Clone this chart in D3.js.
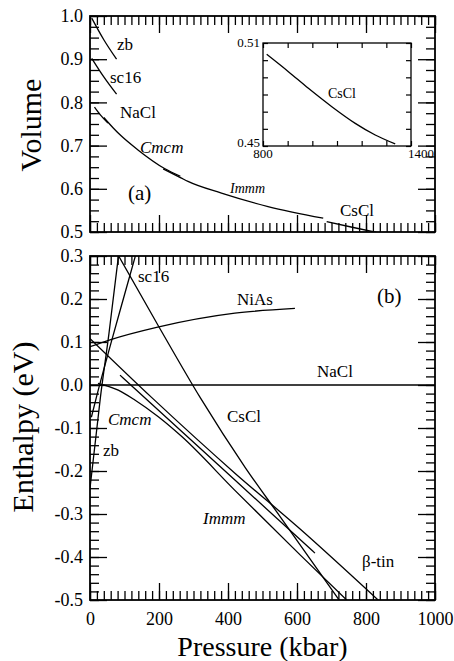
<!DOCTYPE html>
<html>
<head>
<meta charset="utf-8">
<script src="https://cdn.jsdelivr.net/npm/d3@7"></script>
</head>
<body style="margin:0">
<div id="chart"></div>
<script>
const width = 454;
const height = 661;
const serif = "'Liberation Serif'";

// axis ticks
const pressTicks = [0, 200, 400, 600, 800, 1000];
const volTicks = [0.5, 0.6, 0.7, 0.8, 0.9, 1.0];
const enthTicks = [-0.5, -0.4, -0.3, -0.2, -0.1, 0.0, 0.1, 0.2, 0.3];
const insetPressTicks = [800, 900, 1000, 1100, 1200, 1300, 1400];
const insetVolTicks = [0.45, 0.46, 0.47, 0.48, 0.49, 0.50, 0.51];

// (a) volume vs pressure, [kbar, V]
const volZb = [[5, 0.995], [40, 0.945], [77, 0.900]];
const volSc16 = [[5, 0.902], [40, 0.859], [77, 0.819]];
const volNaCl = [[13, 0.789], [30, 0.771], [52, 0.752]];
const volCmcm = [[40, 0.765], [66, 0.742], [91, 0.722], [139, 0.690], [216, 0.647], [262, 0.629]];
const volImmm = [[212, 0.646], [262, 0.626], [284, 0.617], [381, 0.590], [516, 0.559], [676, 0.532]];
const volCsCl = [[686, 0.524], [760, 0.511], [830, 0.499]];
const insetCsCl = [[815, 0.5034], [903, 0.4933], [984, 0.4836], [1079, 0.4729], [1174, 0.4632], [1255, 0.4564], [1336, 0.4512]];

// (b) enthalpy relative to NaCl, [kbar, eV]
const hZb = [[0, -0.24], [30, -0.03], [55, 0.12], [84, 0.31]];
const hSc16 = [[4, -0.075], [19, -0.027], [60, 0.095], [100, 0.21], [135, 0.31]];
const hNiAs = [[0, 0.089], [58, 0.105], [193, 0.134], [420, 0.167], [594, 0.178]];
const hNaCl = [[0, 0], [1000, 0]];
const hCsCl = [[76, 0.31], [200, 0.135], [320, -0.03], [450, -0.192], [551, -0.306], [722, -0.5]];
const hBtin = [[0, 0.108], [180, -0.03], [420, -0.205], [609, -0.335], [835, -0.5]];
const hImmm = [[87, 0.023], [420, -0.221], [652, -0.391]];
const hCmcm = [[23, 0.004], [82, -0.012], [130, -0.035], [198, -0.074], [266, -0.12], [420, -0.245], [609, -0.395], [744, -0.5]];

const svg = d3.select("#chart").append("svg")
    .attr("width", width)
    .attr("height", height)
    .style("display", "block");

const left = 90, right = 435;
const x = d3.scaleLinear().domain([0, 1000]).range([left, right]);
const yVol = d3.scaleLinear().domain([0.5, 1.0]).range([232, 16]);
const yEnth = d3.scaleLinear().domain([-0.5, 0.3]).range([600, 256]);
const xIn = d3.scaleLinear().domain([800, 1400]).range([263, 411]);
const yIn = d3.scaleLinear().domain([0.45, 0.51]).range([146, 43]);

// draws a framed panel with inward major/minor ticks on all four sides
function frame(y, yTicks, yMinorStep, showX, fmtY) {
    const [y0, y1] = y.range();
    const g = svg.append("g");
    const xMinor = d3.range(0, 1000.1, 20);
    const yd = y.domain();
    const yMinor = d3.range(yd[0], yd[1] + 1e-9, yMinorStep);

    const add = (axis, tx, ty) => {
        const a = g.append("g").attr("transform", `translate(${tx},${ty})`).call(axis);
        a.select(".domain").remove();
        a.selectAll("line").attr("stroke", "#000").attr("stroke-width", 1.3);
        a.selectAll("text")
            .attr("fill", "#000")
            .attr("font-family", serif)
            .attr("font-size", 18);
        return a;
    };

    // minor
    add(d3.axisBottom(x).tickValues(xMinor).tickSize(-9).tickFormat(""), 0, y0);
    add(d3.axisTop(x).tickValues(xMinor).tickSize(-9).tickFormat(""), 0, y1);
    add(d3.axisLeft(y).tickValues(yMinor).tickSize(-9).tickFormat(""), left, 0);
    add(d3.axisRight(y).tickValues(yMinor).tickSize(-9).tickFormat(""), right, 0);
    // major
    add(d3.axisBottom(x).tickValues(pressTicks).tickSize(-17).tickPadding(12)
        .tickFormat(showX ? d3.format("d") : ""), 0, y0);
    add(d3.axisTop(x).tickValues(pressTicks).tickSize(-17).tickFormat(""), 0, y1);
    add(d3.axisLeft(y).tickValues(yTicks).tickSize(-17).tickPadding(7).tickFormat(fmtY), left, 0);
    add(d3.axisRight(y).tickValues(yTicks).tickSize(-17).tickFormat(""), right, 0);

    g.append("rect")
        .attr("x", left).attr("y", y1)
        .attr("width", right - left).attr("height", y0 - y1)
        .attr("fill", "none").attr("stroke", "#000").attr("stroke-width", 1.8);
}

function clip(id, x0, y0, w, h) {
    svg.append("clipPath").attr("id", id)
        .append("rect").attr("x", x0).attr("y", y0).attr("width", w).attr("height", h);
}

function curve(data, xs, ys, clipId) {
    const line = d3.line()
        .x(d => xs(d[0]))
        .y(d => ys(d[1]))
        .curve(d3.curveMonotoneX);
    svg.append("path")
        .datum(data)
        .attr("d", line)
        .attr("fill", "none")
        .attr("stroke", "#000")
        .attr("stroke-width", 1.3)
        .attr("clip-path", clipId ? `url(#${clipId})` : null);
}

function label(txt, px, py, size, italic, anchor, transform) {
    const t = svg.append("text")
        .attr("font-family", serif)
        .attr("font-size", size)
        .attr("font-style", italic ? "italic" : null)
        .attr("text-anchor", anchor || "start")
        .text(txt);
    if (transform) t.attr("transform", transform);
    else t.attr("x", px).attr("y", py);
    return t;
}

const fmt1 = d => d.toFixed(1);

// ---- panel (a)
frame(yVol, volTicks, 0.025, false, fmt1);
clip("clipA", left, 16, right - left, 216);
[volZb, volSc16, volNaCl, volCmcm, volImmm, volCsCl].forEach(s => curve(s, x, yVol, "clipA"));

label("zb", 117, 50, 17);
label("sc16", 110, 83, 17);
label("NaCl", 120, 118, 17);
label("Cmcm", 140, 153, 17, true);
label("(a)", 128, 200, 21);
label("Immm", 230, 193, 14, true);
label("CsCl", 340, 216, 17);

// inset
const inset = svg.append("g");
inset.append("rect")
    .attr("x", xIn(800)).attr("y", yIn(0.51))
    .attr("width", xIn(1400) - xIn(800)).attr("height", yIn(0.45) - yIn(0.51))
    .attr("fill", "#fff").attr("stroke", "#000").attr("stroke-width", 1.3);
[
    [d3.axisBottom(xIn), 0, yIn(0.45)],
    [d3.axisTop(xIn), 0, yIn(0.51)]
].forEach(([ax, tx, ty]) => {
    const a = inset.append("g").attr("transform", `translate(${tx},${ty})`)
        .call(ax.tickValues(insetPressTicks).tickSize(-5).tickFormat(""));
    a.select(".domain").remove();
    a.selectAll("line").attr("stroke", "#000").attr("stroke-width", 1.2);
});
[
    [d3.axisLeft(yIn), xIn(800), 0],
    [d3.axisRight(yIn), xIn(1400), 0]
].forEach(([ax, tx, ty]) => {
    const a = inset.append("g").attr("transform", `translate(${tx},${ty})`)
        .call(ax.tickValues(insetVolTicks).tickSize(-5).tickFormat(""));
    a.select(".domain").remove();
    a.selectAll("line").attr("stroke", "#000").attr("stroke-width", 1.2);
});
label("0.51", xIn(800) - 3, yIn(0.51) + 4, 13, false, "end");
label("0.45", xIn(800) - 3, yIn(0.45) + 1, 13, false, "end");
label("800", xIn(800), yIn(0.45) + 12, 13, false, "middle");
label("1400", xIn(1400) + 10, yIn(0.45) + 12, 13, false, "middle");
curve(insetCsCl, xIn, yIn);
label("CsCl", 328, 98, 14);

// ---- panel (b)
frame(yEnth, enthTicks, 0.02, true, fmt1);
clip("clipB", left, 256, right - left, 344);
[hZb, hSc16, hNiAs, hNaCl, hCsCl, hBtin, hImmm, hCmcm].forEach(s => curve(s, x, yEnth, "clipB"));

label("sc16", 138, 282, 17);
label("NiAs", 237, 305, 17);
label("(b)", 377, 303, 21);
label("NaCl", 317, 377, 17);
label("CsCl", 227, 422, 17);
label("Cmcm", 108, 425, 17, true);
label("zb", 103, 456, 17);
label("Immm", 203, 524, 17, true);
label("\u03b2-tin", 362, 567, 17);

// axis titles
label("Volume", 0, 0, 30, false, "middle", "translate(41,125) rotate(-90)");
label("Enthalpy (eV)", 0, 0, 30, false, "middle", "translate(33,427) rotate(-90)");
label("Pressure (kbar)", (left + right) / 2, 656, 28, false, "middle");
</script>
</body>
</html>
